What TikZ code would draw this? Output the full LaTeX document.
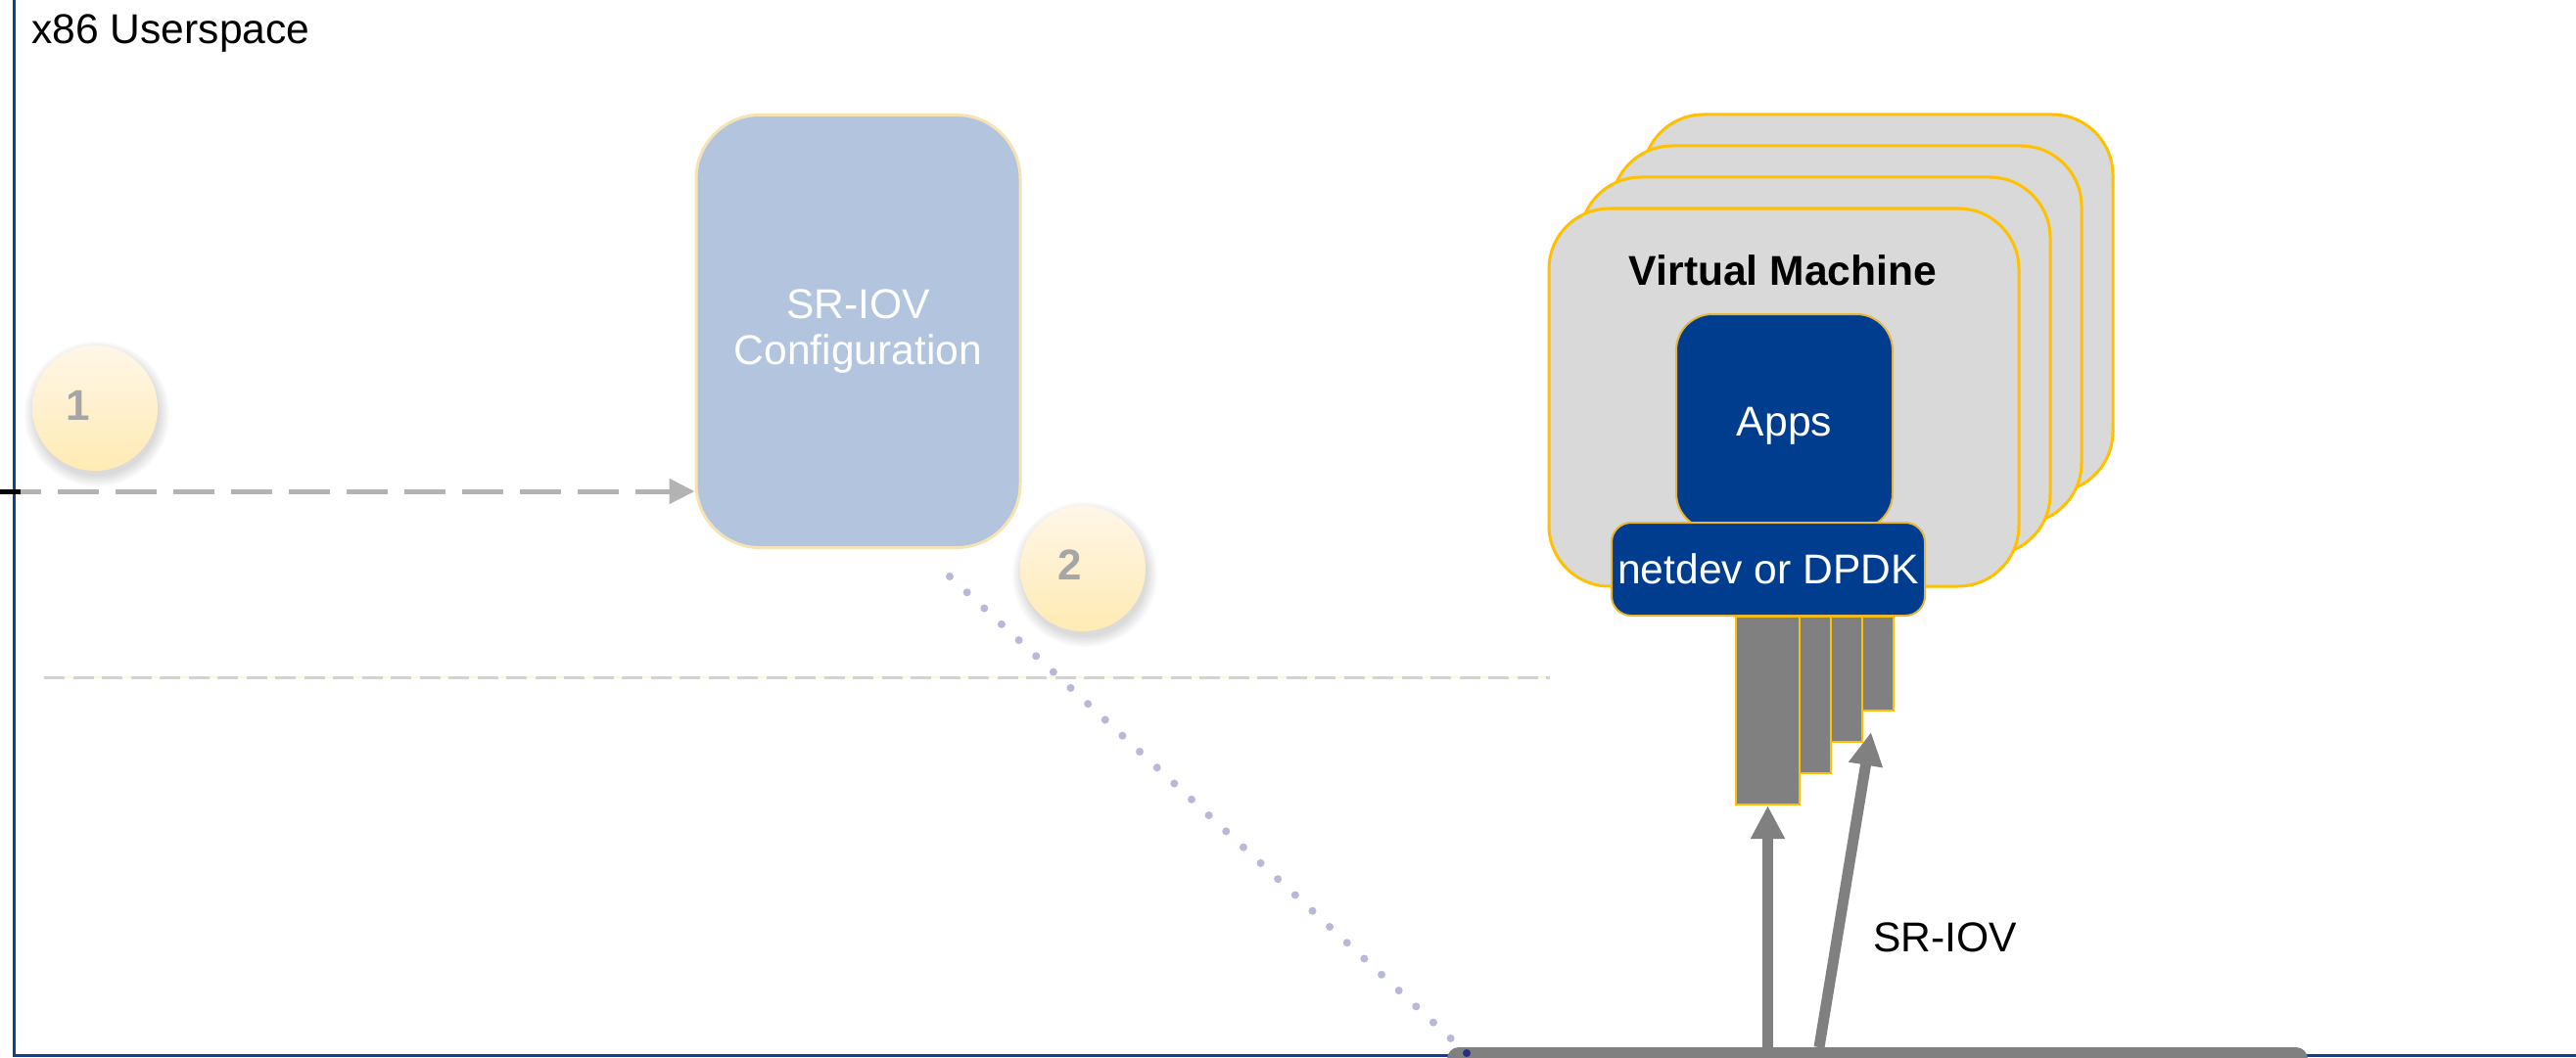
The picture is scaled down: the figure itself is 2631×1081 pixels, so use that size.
\documentclass[tikz,border=0pt]{standalone}
\usepackage{fontspec}
\setmainfont{Liberation Sans}
\usetikzlibrary{arrows.meta}

\definecolor{frameblue}{HTML}{0F3E93}
\definecolor{cfgfill}{HTML}{B3C4DE}
\definecolor{cfgborder}{HTML}{F5E3B3}
\definecolor{vmfill}{HTML}{D9D9D9}
\definecolor{gold}{HTML}{FFC000}
\definecolor{appfill}{HTML}{003D8F}
\definecolor{appborder}{HTML}{E8B53A}
\definecolor{bargray}{HTML}{808080}
\definecolor{dashgray}{HTML}{B3B3B3}
\definecolor{sepgray}{HTML}{D2D2D2}
\definecolor{sepyellow}{HTML}{FFF6DA}
\definecolor{dotcol}{HTML}{B8B8D8}
\definecolor{navydot}{HTML}{262F80}
\definecolor{numgray}{HTML}{A6A6A6}
\definecolor{disctop}{HTML}{FFF6E8}
\definecolor{discbottom}{HTML}{FFEBB3}

\newcommand\diafont{\fontsize{21.3}{23.5}\selectfont}

\tikzset{
  frame/.style={draw=frameblue, line width=1.5pt},
  cfgbox/.style={draw=cfgborder, line width=1.5pt, fill=cfgfill, rounded corners=32.5pt,
    text=white, font=\diafont, align=center, inner sep=0pt},
  numdisc/.style={circle, inner sep=0pt, minimum size=64pt,
    top color=disctop, bottom color=discbottom},
  discshadow/.style={fill=black, fill opacity=0.022},
  numtxt/.style={font=\fontsize{22}{22}\selectfont\bfseries, text=numgray, inner sep=0pt,
    text height=15.6pt, text depth=0pt},
  vmbox/.style={draw=gold, line width=1.5pt, fill=vmfill, rounded corners=31pt,
    minimum width=240pt, minimum height=193pt, inner sep=0pt},
  titletxt/.style={font=\diafont\bfseries, inner sep=0pt},
  appbox/.style={draw=appborder, line width=1pt, fill=appfill, text=white,
    font=\diafont, inner sep=0pt},
  vfbar/.style={draw=gold, line width=1.2pt, fill=bargray, inner sep=0pt},
  vfarrow/.style={draw=bargray, line width=5.5pt,
    -{Triangle[length=17pt,width=16.5pt]}},
  cfgarrow/.style={draw=dashgray, line width=2.5pt, dash pattern=on 21pt off 8.5pt,
    -{Triangle[length=13pt,width=12.5pt]}},
  sepline/.style={draw=sepgray, line width=1.5pt, dash pattern=on 10.5pt off 4.25pt},
  dotline/.style={draw=dotcol, line width=4pt, line cap=round, dash pattern=on 0pt off 12pt},
  plain/.style={font=\diafont, inner sep=0pt},
}

\begin{document}
\begin{tikzpicture}[x=0.5pt, y=-0.5pt]
  \useasboundingbox (0,0) rectangle (2631,1081);
  \clip (0,0) rectangle (2631,1081);
  \fill[white] (0,0) rectangle (2631,1081);

  % userspace frame (left and bottom edges)
  \draw[frame] (14,-20) -- (14,1078) -- (2660,1078);
  \node[plain, anchor=base west] (title) at (32,45) {x86 Userspace};

  % kernel / userspace separator
  \coordinate (sepL) at (45,692);
  \coordinate (sepR) at (1583,692);
  \draw[sepyellow, line width=0.6pt] (sepL) -- (sepR);
  \draw[sepline] (sepL) -- (sepR);

  % SR-IOV configuration block
  \node[cfgbox, minimum width=165.5pt, minimum height=221pt] (cfg) at (876.5,338.5)
    {SR-IOV\\Configuration};

  % step markers with a soft drop shadow
  \coordinate (c1pos) at (97,417);
  \coordinate (c2pos) at (1106,581);
  \foreach \p in {c1pos,c2pos} {
    \foreach \r in {64,66,68,70,72,74} {
      \fill[discshadow] ([shift={(2,6)}]\p) circle (\r*0.5pt);
    }
  }
  \node[numdisc] (c1) at (c1pos) {};
  \node[numtxt] (n1) at (80,414) {1};
  \node[numdisc] (c2) at (c2pos) {};
  \node[numtxt] (n2) at (1093,577) {2};

  % configuration request arriving from the left
  \coordinate (lin) at (0,502);
  \draw[cfgarrow] (lin) -- (lin -| cfg.west);
  \draw[line width=2.5pt] (lin) -- ++(21,0);

  % stacked virtual machines
  \foreach \k in {3,2,1} {
    \node[vmbox] (vm\k) at ({1822+32*\k},{406-32*\k}) {};
  }
  \node[vmbox] (vm0) at (1822,406) {};
  \node[titletxt, anchor=base] (vmtitle) at (1821,291) {Virtual Machine};
  \node[appbox, rounded corners=18.5pt, minimum width=110.5pt, minimum height=110pt,
    text depth=0pt] (apps) at (1822.5,431) {Apps};

  % virtual functions
  \node[vfbar, minimum width=32.5pt, minimum height=96pt] (vf1) at (1805.5,726) {};
  \node[vfbar, minimum width=16pt, minimum height=80pt] (vf2) at (1854,710) {};
  \node[vfbar, minimum width=16pt, minimum height=64pt] (vf3) at (1886,694) {};
  \node[vfbar, minimum width=16pt, minimum height=48pt] (vf4) at (1918,678) {};

  \node[appbox, rounded corners=10pt, minimum width=160pt, minimum height=47.5pt]
    (netdev) at (1806,581.5) {netdev or DPDK};

  % dotted link from the configuration to the NIC
  \coordinate (dotA) at (970,589);
  \coordinate (dotB) at (1498,1076);
  \draw[dotline] (dotA) -- (dotB);

  % physical function bar
  \node[fill=bargray, rounded corners=6pt, minimum width=439.5pt, minimum height=15pt,
    inner sep=0pt] (pf) at (1917.5,1085) {};
  \fill[navydot] (dotB) circle (2pt);

  % SR-IOV paths into the VM
  \draw[vfarrow] (vf1.south |- pf.north) -- (vf1.south);
  \coordinate (a2s) at (1858,1070);
  \coordinate (a2e) at (1911,748);
  \draw[vfarrow] (a2s) -- (a2e);
  \node[plain, anchor=base west] (sriov) at (1913,972) {SR-IOV};
\end{tikzpicture}
\end{document}
